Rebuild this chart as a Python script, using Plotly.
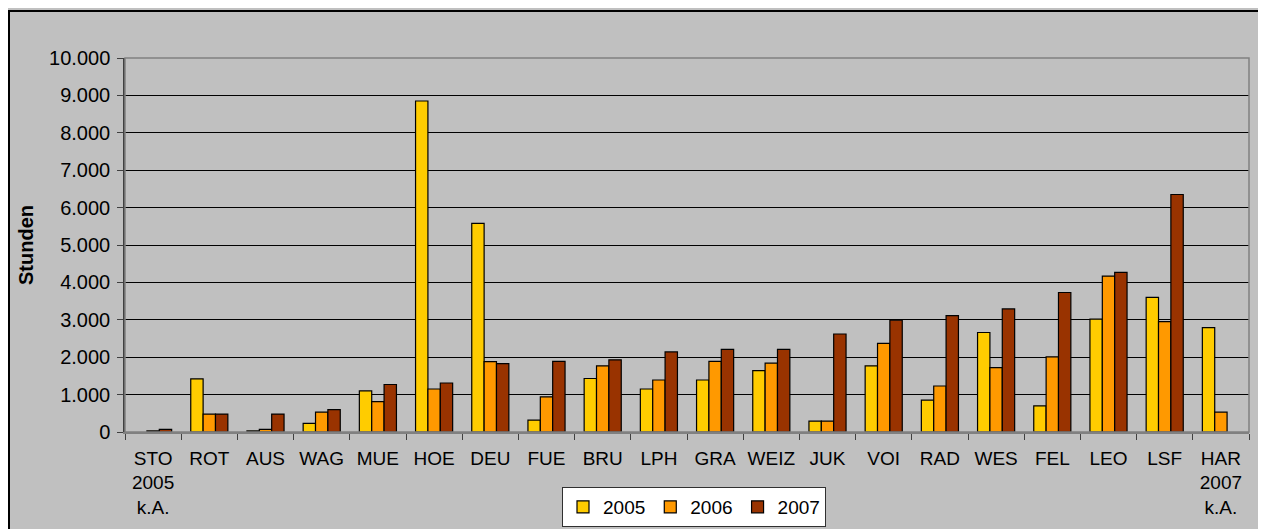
import plotly.graph_objects as go

categories = ["STO<br>2005<br>k.A.", "ROT", "AUS", "WAG", "MUE", "HOE", "DEU", "FUE", "BRU", "LPH",
              "GRA", "WEIZ", "JUK", "VOI", "RAD", "WES", "FEL", "LEO", "LSF", "HAR<br>2007<br>k.A."]
v2005 = [None, 1420, 30, 230, 1100, 8850, 5580, 320, 1430, 1150,
         1390, 1640, 290, 1770, 850, 2660, 700, 3020, 3600, 2790]
v2006 = [30, 480, 70, 530, 810, 1150, 1880, 940, 1770, 1390,
         1890, 1840, 290, 2370, 1230, 1720, 2010, 4170, 2950, 530]
v2007 = [70, 480, 480, 600, 1270, 1310, 1830, 1890, 1930, 2140,
         2210, 2210, 2620, 2990, 3110, 3290, 3730, 4270, 6350, None]
series_names = ["2005", "2006", "2007"]
series_colors = ["#FFCC00", "#FF9900", "#993300"]
y_ticks = [0, 1000, 2000, 3000, 4000, 5000, 6000, 7000, 8000, 9000, 10000]

FONT = "Liberation Sans, Arial, sans-serif"
# page body has an 8px margin: size the figure to fit the window exactly
OFF = 8
W, H = 1266 - OFF, 529 - OFF
# target plot area in page pixels
PL, PR, PT, PB = 125, 1249, 58, 432
ML, MR, MT, MB = PL - OFF, 1266 - PR, PT - OFF, 529 - PB
PW, PH = PR - PL, PB - PT

fig = go.Figure()
for name, vals, col in zip(series_names, [v2005, v2006, v2007], series_colors):
    fig.add_trace(go.Bar(x=categories, y=vals, name=name,
                         marker=dict(color=col, line=dict(color="#000000", width=1.2))))


def px_x(p):
    return (p - PL) / PW


def px_y(p):
    return (PB - p) / PH


# chart frame
fig.add_shape(type="rect", xref="paper", yref="paper",
              x0=px_x(OFF + 1), x1=px_x(1290), y0=px_y(560), y1=px_y(11),
              fillcolor="#C0C0C0", line=dict(color="#000000", width=2), layer="below")
# plot border (top / right grey)
fig.add_shape(type="rect", xref="x domain", yref="y domain", x0=0, x1=1, y0=0, y1=1,
              line=dict(color="#808080", width=1.5), fillcolor="rgba(0,0,0,0)", layer="above")

fig.update_layout(
    width=W, height=H,
    margin=dict(l=ML, r=MR, t=MT, b=MB, pad=0, autoexpand=False),
    paper_bgcolor="#C0C0C0", plot_bgcolor="#C0C0C0",
    barmode="group", bargap=0.34, bargroupgap=0,
    separators=",.",
    font=dict(family=FONT, size=19, color="#000000"),
    showlegend=True,
    legend=dict(orientation="h", x=px_x(694), xanchor="center", y=px_y(527), yanchor="bottom",
                bgcolor="#FFFFFF", bordercolor="#303030", borderwidth=1,
                font=dict(family=FONT, size=19, color="#000000"),
                itemwidth=30, tracegroupgap=0, traceorder="normal"),
    xaxis=dict(type="category", tickson="boundaries", ticks="outside", ticklen=6,
               tickcolor="#404040", tickwidth=1,
               showline=True, linecolor="#808080", linewidth=1.5,
               showgrid=False, tickfont=dict(family=FONT, size=19, color="#000000"),
               ticklabelstandoff=8, automargin=False,
               tickangle=0, fixedrange=True),
    yaxis=dict(range=[0, 10000], tickvals=y_ticks, tickformat=",d",
               ticks="outside", ticklen=6, tickcolor="#404040",
               showline=True, linecolor="#404040", linewidth=1.5,
               showgrid=True, gridcolor="#000000", gridwidth=1,
               zeroline=False, automargin=False, ticklabelstandoff=3,
               tickfont=dict(family=FONT, size=20, color="#000000"),
               title=dict(text="<b>Stunden</b>", font=dict(family=FONT, size=20, color="#000000"),
                          standoff=10),
               fixedrange=True),
)

fig.write_html("out.html")
